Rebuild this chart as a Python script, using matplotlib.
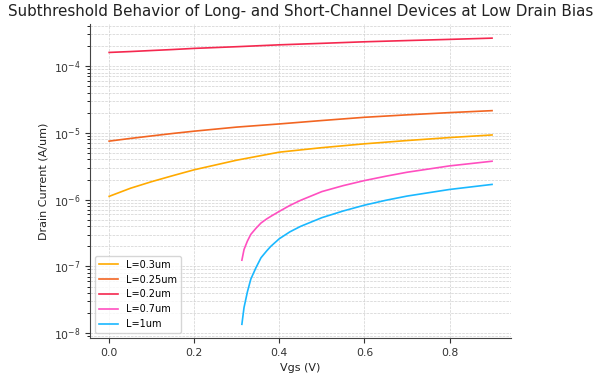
import matplotlib
matplotlib.use('Agg')
import matplotlib.pyplot as plt

# 数据：从图上读出来的点
vgs_short = [0.0, 0.05, 0.1, 0.15, 0.2, 0.3, 0.4, 0.5, 0.6, 0.7, 0.8, 0.9]
id_l03 = [1.12e-6, 1.48e-6, 1.86e-6, 2.29e-6, 2.80e-6, 3.9e-6, 5.14e-6, 6.0e-6, 6.85e-6, 7.67e-6, 8.5e-6, 9.3e-6]
id_l025 = [7.52e-6, 8.25e-6, 9.0e-6, 9.8e-6, 1.06e-5, 1.22e-5, 1.36e-5, 1.53e-5, 1.71e-5, 1.86e-5, 2.01e-5, 2.15e-5]
id_l02 = [1.60e-4, 1.65e-4, 1.71e-4, 1.77e-4, 1.84e-4, 1.95e-4, 2.08e-4, 2.19e-4, 2.31e-4, 2.41e-4, 2.51e-4, 2.62e-4]

vgs_long = [0.312, 0.317, 0.325, 0.333, 0.345, 0.357, 0.37, 0.38, 0.4, 0.425, 0.45,
            0.5, 0.55, 0.6, 0.65, 0.7, 0.8, 0.9]
id_l07 = [1.24e-7, 1.79e-7, 2.40e-7, 3.02e-7, 3.72e-7, 4.47e-7, 5.13e-7, 5.62e-7, 6.68e-7, 8.2e-7, 9.77e-7,
          1.32e-6, 1.62e-6, 1.93e-6, 2.24e-6, 2.57e-6, 3.20e-6, 3.76e-6]
id_l1 = [1.36e-8, 2.42e-8, 4.17e-8, 6.46e-8, 9.55e-8, 1.35e-7, 1.70e-7, 2.0e-7, 2.60e-7, 3.3e-7, 3.98e-7,
         5.37e-7, 6.76e-7, 8.26e-7, 9.77e-7, 1.13e-6, 1.42e-6, 1.69e-6]

fig = plt.figure(figsize=(6, 3.75), dpi=100)
ax = fig.add_axes([0.15, 0.099, 0.702, 0.837])

ax.plot(vgs_short, id_l03, color='#ffaa00', lw=1.2, label='L=0.3um')
ax.plot(vgs_short, id_l025, color='#f26522', lw=1.2, label='L=0.25um')
ax.plot(vgs_short, id_l02, color='#f5284f', lw=1.2, label='L=0.2um')
ax.plot(vgs_long, id_l07, color='#ff4fc0', lw=1.2, label='L=0.7um')
ax.plot(vgs_long, id_l1, color='#1ab8ff', lw=1.2, label='L=1um')

ax.set_yscale('log')
ax.set_ylim(10**-8.07, 10**-3.37)
ax.set_xlim(-0.045, 0.945)

ax.set_title('Subthreshold Behavior of Long- and Short-Channel Devices at Low Drain Bias',
             fontsize=10.9, color='#222222')
ax.set_xlabel('Vgs (V)', fontsize=8, color='#222222')
ax.set_ylabel('Drain Current (A/um)', fontsize=8, color='#222222')

ax.grid(True, which='both', ls='--', lw=0.5, color='#d0d0d0')
ax.spines['top'].set_visible(False)
ax.spines['right'].set_visible(False)
for s in ['left', 'bottom']:
    ax.spines[s].set_color('#444444')
ax.tick_params(labelsize=7.8, colors='#333333')

ax.legend(loc='lower left', fontsize=7, frameon=True, edgecolor='#cccccc', fancybox=True)

fig.savefig('out.png', dpi=100)
